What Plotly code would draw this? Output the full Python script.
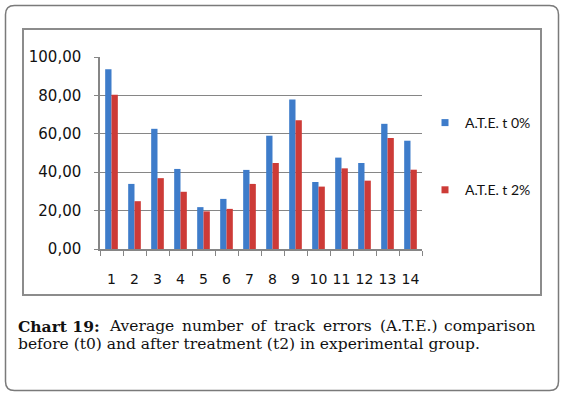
import plotly.graph_objects as go

categories = [str(i) for i in range(1, 15)]
ate_t0 = [93.6, 33.9, 62.6, 41.7, 21.8, 26.1, 41.2, 59.0, 77.9, 34.9, 47.6, 44.8, 65.2, 56.4]
ate_t2 = [80.3, 24.9, 36.9, 29.8, 19.6, 20.9, 33.9, 44.8, 67.1, 32.5, 42.0, 35.6, 57.8, 41.3]
series_names = ["A.T.E. t 0%", "A.T.E. t 2%"]
colors = ["#3E7CCA", "#CD3B37"]
y_ticks = [0, 20, 40, 60, 80, 100]

W, H = 565, 397
PL, PR, PT, PB = 100, 422, 57, 249

def px(x):
    return (x - PL) / (PR - PL)

def py(y):
    return (PB - y) / (PB - PT)

def rrect(x0, y0, x1, y1, r):
    return (f"M {px(x0 + r)},{py(y0)} L {px(x1 - r)},{py(y0)} "
            f"Q {px(x1)},{py(y0)} {px(x1)},{py(y0 + r)} "
            f"L {px(x1)},{py(y1 - r)} Q {px(x1)},{py(y1)} {px(x1 - r)},{py(y1)} "
            f"L {px(x0 + r)},{py(y1)} Q {px(x0)},{py(y1)} {px(x0)},{py(y1 - r)} "
            f"L {px(x0)},{py(y0 + r)} Q {px(x0)},{py(y0)} {px(x0 + r)},{py(y0)} Z")

fig = go.Figure()
for vals, name, c in zip([ate_t0, ate_t2], series_names, colors):
    fig.add_trace(go.Bar(x=categories, y=vals, name=name, marker=dict(color=c, line=dict(width=0)),
                         showlegend=False))
for name, c in zip(series_names, colors):
    fig.add_trace(go.Scatter(x=[None], y=[None], mode="markers", name=name, legendgroup=name,
                             marker=dict(symbol="square", size=7, color=c)))

shapes = [
    dict(type="path", xref="paper", yref="paper", path=rrect(5.5, 5.5, 558.5, 390.5, 9),
         line=dict(color="#7A7A7A", width=1.5), layer="below"),
    dict(type="rect", xref="paper", yref="paper", x0=px(23), x1=px(541), y0=py(29), y1=py(295),
         line=dict(color="#8C8C8C", width=2), layer="below"),
]

CAP_FONT = dict(family="DejaVu Serif", size=15.5, color="#111111")
annotations = []
line1 = [("<b>Chart 19:</b>", 17, "left"), ("Average", 107.5, "left"), ("number", 180.5, "left"),
         ("of", 249.5, "left"), ("track", 272.5, "left"), ("errors", 322, "left"),
         ("(A.T.E.)", 378.5, "left"), ("comparison", 537, "right")]
for txt, xp, anc in line1:
    annotations.append(dict(text=txt, x=px(xp), y=py(326), xref="paper", yref="paper",
                            xanchor=anc, yanchor="middle", showarrow=False,
                            borderpad=0, font=CAP_FONT))
annotations.append(dict(text="before (t0) and after treatment (t2) in experimental group.",
                        x=px(17), y=py(344), xref="paper", yref="paper",
                        xanchor="left", yanchor="middle", showarrow=False,
                        borderpad=0, font=CAP_FONT))

fig.update_layout(
    width=W, height=H,
    margin=dict(l=PL, r=W - PR, t=PT, b=H - PB, pad=0),
    paper_bgcolor="white", plot_bgcolor="white",
    separators=",.",
    barmode="group", bargap=0.45, bargroupgap=0,
    font=dict(family="DejaVu Sans", size=15, color="#111111"),
    legend=dict(x=px(425), y=py(107), xanchor="left", yanchor="top",
                font=dict(family="Lato", size=14, color="#111111"),
                tracegroupgap=46, bgcolor="rgba(0,0,0,0)", traceorder="grouped",
                itemwidth=30),
    shapes=shapes,
    annotations=annotations,
    xaxis=dict(type="category", showline=True, linecolor="#868686", linewidth=1.5,
               ticks="outside", ticklen=5, tickcolor="#868686", tickson="boundaries",
               tickangle=0, tickfont=dict(size=14),
               ticklabelstandoff=16, showgrid=False, fixedrange=True),
    yaxis=dict(range=[0, 100], tickvals=y_ticks, tickformat=".2f", showline=True,
               linecolor="#868686", linewidth=1.5, ticks="outside", ticklen=4,
               tickcolor="#868686", gridcolor="#868686", gridwidth=1.2,
               ticklabelstandoff=10, zeroline=False, fixedrange=True),
)

fig.write_html("out.html", config={"displayModeBar": False},
               post_script="document.body.style.margin='0';document.body.style.overflow='hidden';")
